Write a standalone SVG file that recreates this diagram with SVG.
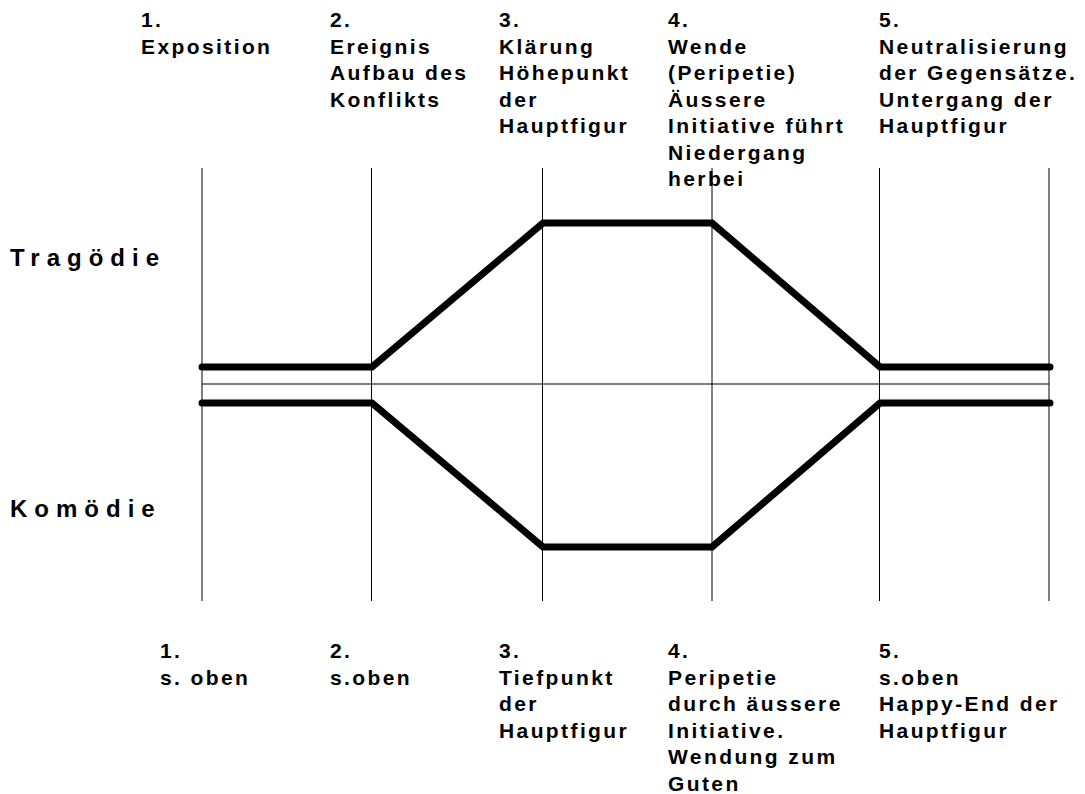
<svg xmlns="http://www.w3.org/2000/svg" width="1085" height="794" viewBox="0 0 1085 794">
<style>
.t{font-family:"Liberation Sans",Arial,sans-serif;font-weight:bold;font-size:21px;letter-spacing:2.4px;fill:#000}
.h{font-family:"Liberation Sans",Arial,sans-serif;font-weight:bold;font-size:24px;letter-spacing:7px;fill:#000}
.v{stroke:#000;stroke-width:1;fill:none}
.c{stroke:#000;stroke-width:7;fill:none;stroke-linecap:round;stroke-linejoin:miter}
</style>
<rect width="1085" height="794" fill="#fff"/>
<g id="grid">
<line class="v" x1="202" y1="168" x2="202" y2="601"/>
<line class="v" x1="371.5" y1="168" x2="371.5" y2="601"/>
<line class="v" x1="542.5" y1="168" x2="542.5" y2="601"/>
<line class="v" x1="712" y1="168" x2="712" y2="601"/>
<line class="v" x1="879.5" y1="168" x2="879.5" y2="601"/>
<line class="v" x1="1049" y1="168" x2="1049" y2="601"/>
<line class="v" x1="202" y1="384" x2="1049" y2="384"/>
</g>
<g id="connectors">
<polyline id="tragoedie-curve" class="c" points="202,367 372,367 543,223 712,223 880,367 1050,367"/>
<polyline id="komoedie-curve" class="c" points="202,403 372,403 543,547 712,547 880,403 1050,403"/>
</g>
<g id="label-tragoedie"><text class="h" x="10" y="266">Tragödie</text></g>
<g id="label-komoedie"><text class="h" x="10" y="517">Komödie</text></g>
<g id="top-1"><text class="t" x="141" y="27">1.</text><text class="t" x="141" y="53.5">Exposition</text></g>
<g id="top-2"><text class="t" x="330" y="27">2.</text><text class="t" x="330" y="53.5">Ereignis</text><text class="t" x="330" y="80">Aufbau des</text><text class="t" x="330" y="106.5">Konflikts</text></g>
<g id="top-3"><text class="t" x="499" y="27">3.</text><text class="t" x="499" y="53.5">Klärung</text><text class="t" x="499" y="80">Höhepunkt</text><text class="t" x="499" y="106.5">der</text><text class="t" x="499" y="133">Hauptfigur</text></g>
<g id="top-4"><text class="t" x="668" y="27">4.</text><text class="t" x="668" y="53.5">Wende</text><text class="t" x="668" y="80">(Peripetie)</text><text class="t" x="668" y="106.5">Äussere</text><text class="t" x="668" y="133">Initiative führt</text><text class="t" x="668" y="159.5">Niedergang</text><text class="t" x="668" y="186">herbei</text></g>
<g id="top-5"><text class="t" x="879" y="27">5.</text><text class="t" x="879" y="53.5">Neutralisierung</text><text class="t" x="879" y="80">der Gegensätze.</text><text class="t" x="879" y="106.5">Untergang der</text><text class="t" x="879" y="133">Hauptfigur</text></g>
<g id="bottom-1"><text class="t" x="160" y="658">1.</text><text class="t" x="160" y="684.5">s. oben</text></g>
<g id="bottom-2"><text class="t" x="330" y="658">2.</text><text class="t" x="330" y="684.5">s.oben</text></g>
<g id="bottom-3"><text class="t" x="499" y="658">3.</text><text class="t" x="499" y="684.5">Tiefpunkt</text><text class="t" x="499" y="711">der</text><text class="t" x="499" y="737.5">Hauptfigur</text></g>
<g id="bottom-4"><text class="t" x="668" y="658">4.</text><text class="t" x="668" y="684.5">Peripetie</text><text class="t" x="668" y="711">durch äussere</text><text class="t" x="668" y="737.5">Initiative.</text><text class="t" x="668" y="764">Wendung zum</text><text class="t" x="668" y="790.5">Guten</text></g>
<g id="bottom-5"><text class="t" x="879" y="658">5.</text><text class="t" x="879" y="684.5">s.oben</text><text class="t" x="879" y="711">Happy-End der</text><text class="t" x="879" y="737.5">Hauptfigur</text></g>
</svg>
